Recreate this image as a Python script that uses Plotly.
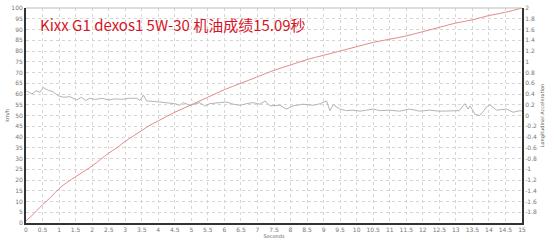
import plotly.graph_objects as go

# Speed (km/h) vs time (s)
speed_t = [0, 0.25, 0.5, 0.75, 1.0, 1.25, 1.5, 1.75, 2.0, 2.25, 2.5, 2.75, 3.0, 3.25, 3.5, 3.75, 4.0,
           4.5, 5.0, 5.5, 6.0, 6.5, 7.0, 7.5, 8.0, 8.5, 9.0, 9.5, 10.0, 10.5, 11.0, 11.5, 12.0,
           12.5, 13.0, 13.5, 14.0, 14.5, 15.0]
speed_v = [1, 4.5, 8.5, 12, 16, 19, 21.5, 24, 26.5, 29.5, 32.5, 35, 38, 40.5, 43, 45.5, 47.5,
           51.5, 55, 58.5, 62, 65, 68, 71, 73.5, 76, 78, 80, 82, 84, 85.5, 87, 89,
           91, 93, 94.5, 96.5, 98, 100]

# Longitudinal acceleration (g) vs time (s)
acc_t = [0, 0.18, 0.3, 0.42, 0.52, 0.67, 0.82, 0.97, 1.12, 1.33, 1.53, 1.68, 1.8, 1.94, 2.1, 2.3,
         2.5, 2.7, 2.9, 3.1, 3.35, 3.45, 3.55, 3.65, 3.9, 4.25, 4.5, 4.65, 4.75, 4.96, 5.26, 5.4,
         5.56, 5.87, 6.07, 6.27, 6.47, 6.67, 6.87, 7.07, 7.23, 7.38, 7.68, 7.88, 8.08, 8.38, 8.69,
         8.9, 9.09, 9.19, 9.29, 9.49, 9.69, 9.89, 10.1, 10.3, 10.5, 10.7, 11.0, 11.3, 11.6, 11.9,
         12.2, 12.5, 12.8, 13.1, 13.27, 13.37, 13.43, 13.58, 13.73, 13.93, 14.03, 14.23, 14.53,
         14.73, 14.94, 15.0]
acc_v = [0.46, 0.40, 0.46, 0.43, 0.52, 0.47, 0.44, 0.37, 0.34, 0.35, 0.29, 0.34, 0.28, 0.32, 0.30,
         0.32, 0.29, 0.31, 0.30, 0.32, 0.32, 0.28, 0.38, 0.27, 0.26, 0.23, 0.22, 0.19, 0.24, 0.19,
         0.24, 0.18, 0.22, 0.24, 0.25, 0.21, 0.19, 0.22, 0.24, 0.21, 0.27, 0.18, 0.19, 0.12, 0.18,
         0.21, 0.19, 0.22, 0.27, 0.09, 0.20, 0.12, 0.09, 0.10, 0.08, 0.10, 0.12, 0.09, 0.10, 0.08,
         0.12, 0.08, 0.10, 0.08, 0.08, 0.09, 0.22, 0.12, 0.18, 0.02, 0.00, 0.16, 0.20, 0.10, 0.12,
         0.06, 0.09, 0.08]

x_ticks = [i * 0.5 for i in range(31)]
x_labels = [("%g" % v) for v in x_ticks]
y_ticks = list(range(0, 101, 5))
y2_ticks = [round(-1.8 + 0.2 * i, 1) for i in range(20)]
y2_labels = [("%g" % v) for v in y2_ticks]

title_text = "Kixx G1 dexos1 5W-30 机油成绩15.09秒"

fig = go.Figure()
fig.add_trace(go.Scatter(x=acc_t, y=acc_v, mode="lines", yaxis="y2",
                         line=dict(color="#b4b4b4", width=1), showlegend=False))
fig.add_trace(go.Scatter(x=speed_t, y=speed_v, mode="lines",
                         line=dict(color="#e68a8a", width=1, shape="spline"), showlegend=False))

tickfont = dict(family="DejaVu Sans", size=6, color="#777777")
fig.update_layout(
    width=554, height=245,
    margin=dict(l=26, r=32, t=4, b=22),
    paper_bgcolor="white", plot_bgcolor="white",
    xaxis=dict(range=[0, 15], tickvals=x_ticks, ticktext=x_labels, tickfont=tickfont,
               showgrid=True, gridcolor="#d6d6d6", griddash="dot", gridwidth=1,
               showline=True, linecolor="#333333", linewidth=2, zeroline=False,
               ticks="", title=dict(text="Seconds", font=dict(family="DejaVu Sans", size=5, color="#666"),
                                    standoff=2)),
    yaxis=dict(range=[0, 100], tickvals=y_ticks, tickfont=tickfont,
               showgrid=True, gridcolor="#d6d6d6", griddash="dot", gridwidth=1,
               showline=True, linecolor="#333333", linewidth=2, zeroline=False, ticks="",
               title=dict(text="km/h", font=dict(family="DejaVu Sans", size=5, color="#666"),
                          standoff=2)),
    yaxis2=dict(range=[-2, 2], overlaying="y", side="right", tickvals=y2_ticks + [2],
                ticktext=y2_labels + ["2"], tickfont=tickfont, showgrid=False,
                showline=True, linecolor="#333333", linewidth=2, zeroline=False, ticks="",
                title=dict(text="Longitudinal Acceleration",
                           font=dict(family="DejaVu Sans", size=5, color="#666"), standoff=4)),
)
fig.add_shape(type="line", xref="paper", yref="paper", x0=0, x1=1, y0=1, y1=1,
              line=dict(color="#bbbbbb", width=1))
fig.add_annotation(text=title_text, xref="paper", yref="paper", x=0.025, y=0.925,
                   xanchor="left", yanchor="middle", showarrow=False,
                   font=dict(family="Noto Sans CJK SC", size=15, color="#d7141f"))
fig.write_html("out.html")
